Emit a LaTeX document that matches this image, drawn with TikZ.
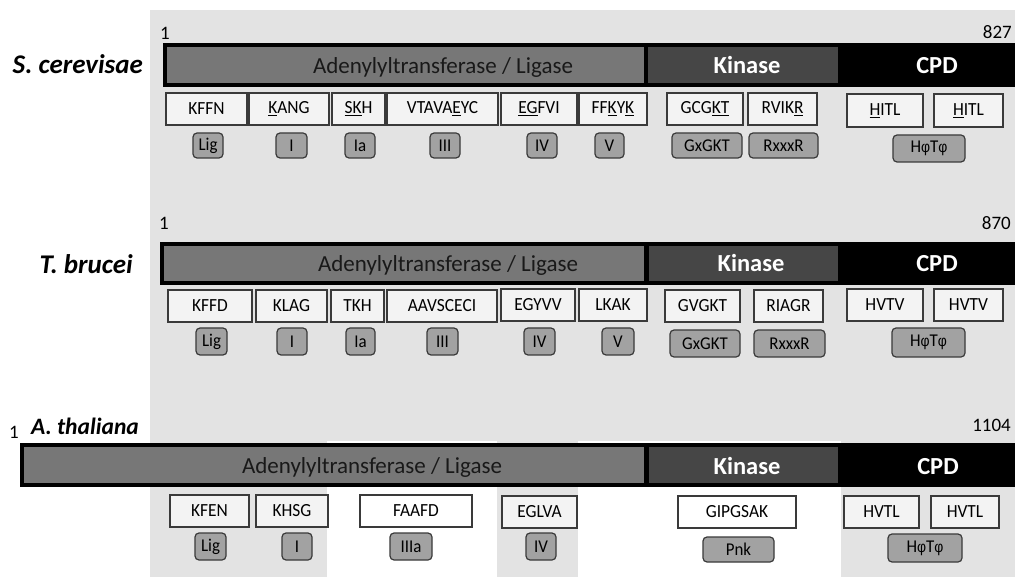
\documentclass[tikz,border=0pt]{standalone}
\usepackage{fontspec}
\setmainfont{Carlito}
\newfontfamily\narrowfont[FakeStretch=0.94]{Carlito}
\newfontfamily\phifont[FakeStretch=0.9]{Liberation Sans}
\definecolor{bgc}{HTML}{E3E3E3}
\definecolor{mfill}{HTML}{F3F3F3}
\definecolor{bord}{HTML}{3A3A3A}
\definecolor{lfill}{HTML}{A2A2A2}
\definecolor{adcol}{HTML}{777777}
\definecolor{kincol}{HTML}{464646}
\newcommand\uu[1]{\underline{#1}}
\newcommand\phs{{\phifont\fontsize{15.5}{17}\selectfont φ}}
\newcommand\bx[7]{\node[#1, minimum width={(#4)-(#3)}, minimum height={(#6)-(#5)}] (#2) at ({((#3)+(#4))/2},{((#5)+(#6))/2}) {#7};}
\tikzset{
  motifbox/.style={draw=bord, line width=1.3pt, fill=mfill, inner sep=0pt, font=\narrowfont\fontsize{18.5}{20}\selectfont},
  whitebox/.style={motifbox, fill=white},
  labbox/.style={draw=bord, line width=1.2pt, fill=lfill, rounded corners=4pt, inner sep=0pt, font=\narrowfont\fontsize{18}{20}\selectfont},
  species/.style={anchor=east, font=\fontsize{27}{30}\bfseries\itshape\selectfont, inner sep=0pt},
  numlab/.style={font=\fontsize{19}{21}\selectfont, inner sep=0pt},
  adlab/.style={anchor=base, font=\fontsize{23}{26}\selectfont, text=black!90, inner sep=0pt},
  kinlab/.style={anchor=base, font=\fontsize{24.5}{27}\bfseries\selectfont, text=white, inner sep=0pt},
  barseg/.style={inner sep=0pt, draw=none},
}
\begin{document}
\begin{tikzpicture}[x=1pt,y=-1pt]
\useasboundingbox (0,0) rectangle (1015,577);
% background
\fill[bgc] (150,10) rectangle (1015,577);
\fill[white] (327,441) rectangle (497,577);
\fill[white] (578,441) rectangle (841,577);

% ---------- S. cerevisae ----------
\node[species] (sp1) at (143,64) {S. cerevisae};
\node[numlab] (s1a) at (165,33) {1};
\node[numlab, anchor=east] (s1b) at (1012,32) {827};
\bx{barseg, fill=black}{bar1}{163}{1015}{43}{87}{}
\bx{barseg, fill=adcol}{ad1}{167}{644}{47}{83}{}
\bx{barseg, fill=kincol}{kin1}{648}{838}{47}{83}{}
\node[adlab] (adt1) at (443,74) {Adenylyltransferase / Ligase};
\node[kinlab] (kint1) at (747,74) {Kinase};
\node[kinlab] (cpdt1) at (937,74) {CPD};
\bx{motifbox}{m11}{166}{247}{93}{125}{KFFN}
\bx{motifbox}{m12}{249}{329}{93}{125}{\uu{K}ANG}
\bx{motifbox}{m13}{332}{385}{93}{125}{\uu{SK}H}
\bx{motifbox}{m14}{387}{498}{93}{125}{VTAVA\uu{E}YC}
\bx{motifbox}{m15}{501}{577}{93}{125}{\uu{EG}FVI}
\bx{motifbox}{m16}{579}{647}{93}{125}{FF\uu{K}Y\uu{K}}
\bx{motifbox}{m17}{667}{743}{93}{125}{GCG\uu{KT}}
\bx{motifbox}{m18}{748}{817}{93}{125}{RVIK\uu{R}}
\bx{motifbox}{m19}{847}{923}{94}{127}{\uu{H}ITL}
\bx{motifbox}{m110}{934}{1003}{94}{127}{\uu{H}ITL}
\bx{labbox}{l11}{193}{223}{133}{158}{Lig}
\bx{labbox}{l12}{276}{307}{133}{158}{I}
\bx{labbox}{l13}{345}{375}{133}{158}{Ia}
\bx{labbox}{l14}{430}{460}{133}{158}{III}
\bx{labbox}{l15}{527}{557}{133}{158}{IV}
\bx{labbox}{l16}{595}{624}{133}{158}{V}
\bx{labbox}{l17}{672}{742}{133}{158}{GxGKT}
\bx{labbox}{l18}{749}{818}{133}{158}{RxxxR}
\bx{labbox}{l19}{893}{965}{135}{162}{H\phs T\phs}

% ---------- T. brucei ----------
\node[species] (sp2) at (133,264) {T. brucei};
\node[numlab] (s2a) at (164,223) {1};
\node[numlab, anchor=east] (s2b) at (1011,223) {870};
\bx{barseg, fill=black}{bar2}{160}{1015}{242}{285}{}
\bx{barseg, fill=adcol}{ad2}{164}{644}{246}{281}{}
\bx{barseg, fill=kincol}{kin2}{649}{838}{246}{281}{}
\node[adlab] (adt2) at (448,272) {Adenylyltransferase / Ligase};
\node[kinlab] (kint2) at (751,272) {Kinase};
\node[kinlab] (cpdt2) at (937,272) {CPD};
\bx{motifbox}{m21}{168}{252}{290}{322}{KFFD}
\bx{motifbox}{m22}{256}{327}{290}{322}{KLAG}
\bx{motifbox}{m23}{331}{384}{290}{322}{TKH}
\bx{motifbox}{m24}{387}{497}{290}{322}{AAVSCECI}
\bx{motifbox}{m25}{501}{575}{289}{321}{EGYVV}
\bx{motifbox}{m26}{579}{647}{289}{321}{LKAK}
\bx{motifbox}{m27}{665}{740}{290}{322}{GVGKT}
\bx{motifbox}{m28}{754}{823}{290}{322}{RIAGR}
\bx{motifbox}{m29}{847}{923}{289}{321}{HVTV}
\bx{motifbox}{m210}{934}{1003}{289}{321}{HVTV}
\bx{labbox}{l21}{196}{227}{328}{355}{Lig}
\bx{labbox}{l22}{277}{307}{328}{355}{I}
\bx{labbox}{l23}{346}{375}{328}{355}{Ia}
\bx{labbox}{l24}{427}{458}{328}{355}{III}
\bx{labbox}{l25}{524}{555}{328}{355}{IV}
\bx{labbox}{l26}{602}{634}{328}{355}{V}
\bx{labbox}{l27}{670}{740}{330}{357}{GxGKT}
\bx{labbox}{l28}{754}{825}{330}{357}{RxxxR}
\bx{labbox}{l29}{892}{965}{328}{357}{H\phs T\phs}

% ---------- A. thaliana ----------
\node[species, font=\fontsize{23.5}{26}\bfseries\itshape\selectfont] (sp3) at (139,426) {A. thaliana};
\node[numlab] (s3a) at (14,432) {1};
\node[numlab, anchor=east] (s3b) at (1011,425) {1104};
\bx{barseg, fill=black}{bar3}{20}{1015}{443}{487}{}
\bx{barseg, fill=adcol}{ad3}{24}{644}{447}{483}{}
\bx{barseg, fill=kincol}{kin3}{649}{838}{447}{483}{}
\node[adlab] (adt3) at (372,473) {Adenylyltransferase / Ligase};
\node[kinlab] (kint3) at (747,474) {Kinase};
\node[kinlab] (cpdt3) at (938,474) {CPD};
\bx{motifbox}{m31}{170}{249}{495}{527}{KFEN}
\bx{motifbox}{m32}{256}{328}{495}{527}{KHSG}
\bx{whitebox}{m33}{360}{472}{495}{527}{FAAFD}
\bx{motifbox}{m34}{502}{577}{496}{528}{EGLVA}
\bx{whitebox}{m35}{678}{796}{496}{528}{GIPGSAK}
\bx{motifbox}{m36}{844}{919}{496}{528}{HVTL}
\bx{motifbox}{m37}{931}{999}{496}{528}{HVTL}
\bx{labbox}{l31}{195}{226}{533}{560}{Lig}
\bx{labbox}{l32}{282}{312}{533}{560}{I}
\bx{labbox}{l33}{390}{432}{533}{560}{IIIa}
\bx{labbox}{l34}{526}{556}{533}{560}{IV}
\bx{labbox}{l35}{703}{774}{537}{562}{Pnk}
\bx{labbox}{l36}{888}{962}{534}{562}{H\phs T\phs}
\end{tikzpicture}
\end{document}
